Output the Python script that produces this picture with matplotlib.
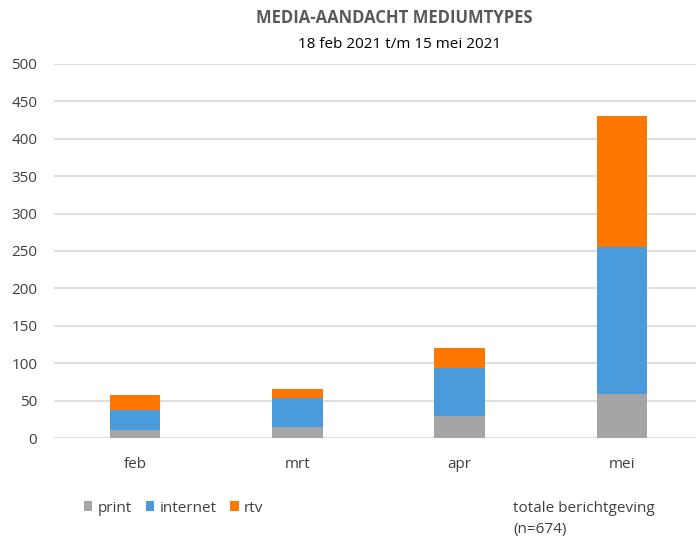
import matplotlib
matplotlib.use("Agg")
import matplotlib.pyplot as plt
import numpy as np

# Data
maanden = ["feb", "mrt", "apr", "mei"]
print_vals = [11, 15, 30, 59]
internet_vals = [26, 38, 63, 196]
rtv_vals = [21, 13, 27, 175]

plt.rcParams['font.family'] = ['Open Sans', 'DejaVu Sans']

fig = plt.figure(figsize=(6.96, 5.43), dpi=100)
ax = fig.add_axes([54 / 696, 105 / 543, 649 / 696, 374 / 543])

x = np.arange(len(maanden))
breedte = 0.31
p = np.array(print_vals)
i = np.array(internet_vals)
r = np.array(rtv_vals)

ax.bar(x, p, breedte, color='#a5a5a5', label='print')
ax.bar(x, i, breedte, bottom=p, color='#4a9bdb', label='internet')
ax.bar(x, r, breedte, bottom=p + i, color='#fe7700', label='rtv')

ax.set_xlim(-0.5, 3.5)
ax.set_ylim(0, 500)
ax.set_yticks(range(0, 501, 50))
ax.set_xticks(x)
ax.set_xticklabels(maanden)
ax.grid(axis='y', color='#d9d9d9', linewidth=1.2)
ax.set_axisbelow(True)
for s in ax.spines.values():
    s.set_visible(False)
ax.tick_params(length=0, labelsize=11, colors='#404040')
ax.tick_params(axis='y', pad=12)
ax.tick_params(axis='x', pad=14)

# Titels
fig.text(394 / 696, 1 - 18 / 543, 'MEDIA-AANDACHT MEDIUMTYPES', ha='center', va='center',
         fontsize=12, fontweight='bold', color='#595959')
fig.text(400 / 696, 1 - 45 / 543, '18 feb 2021 t/m 15 mei 2021', ha='center', va='center',
         fontsize=11, color='#000000')

# Legenda
leg = fig.legend(loc='center left', bbox_to_anchor=(84 / 696, 1 - 508 / 543), ncol=3,
                 frameon=False, fontsize=11, handlelength=0.55, handleheight=0.55,
                 handletextpad=0.35, columnspacing=0.9, labelcolor='#404040',
                 borderpad=0, borderaxespad=0)

fig.text(513 / 696, 1 - 508 / 543, 'totale berichtgeving', ha='left', va='center',
         fontsize=11, color='#404040')
fig.text(513 / 696, 1 - 530 / 543, '(n=674)', ha='left', va='center',
         fontsize=11, color='#404040')

fig.savefig('out.png', dpi=100)
